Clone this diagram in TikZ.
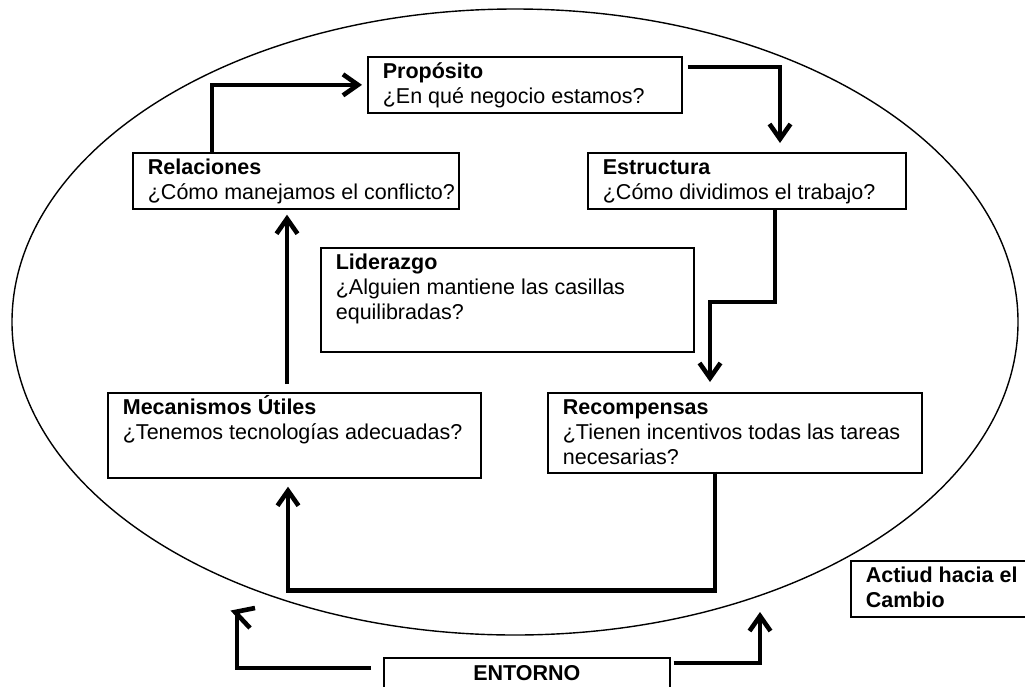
\documentclass[tikz,border=0pt]{standalone}
\usepackage{fontspec}
\setmainfont{Liberation Sans}
\usetikzlibrary{arrows.meta,calc}
\newcommand{\bt}[3]{\parbox[c][#2][t]{#1}{\raggedright\leftskip=15pt\rule{0pt}{22pt}#3}}
\begin{document}
\begin{tikzpicture}[x=1pt,y=-1pt,
  box/.style={draw, line width=1.7pt, fill=white, inner sep=0pt, anchor=north west,
              font=\fontsize{21.5pt}{25pt}\selectfont},
  shaft/.style={line width=4.6pt, line cap=butt, line join=miter},
  conn/.style={shaft, -{Straight Barb[length=15pt,width=21pt]}},
  ring/.style={line width=1.4pt}
]
\useasboundingbox (0,0) rectangle (1025,686);
\draw[ring] (515,322) ellipse [x radius=503pt, y radius=313pt];

\node[box] (prop) at (367,56) {\bt{314pt}{56pt}{\textbf{Propósito}\\¿En qué negocio estamos?}};
\node[box] (estr) at (587,152) {\bt{318pt}{56pt}{\textbf{Estructura}\\¿Cómo dividimos el trabajo?}};
\node[box] (rel) at (132,152) {\bt{326pt}{56pt}{\textbf{Relaciones}\\¿Cómo manejamos el conflicto?}};
\node[box] (lid) at (320,247) {\bt{373pt}{104pt}{\textbf{Liderazgo}\\¿Alguien mantiene las casillas\\equilibradas?}};
\node[box] (mec) at (107,392) {\bt{373pt}{85pt}{\textbf{Mecanismos Útiles}\\¿Tenemos tecnologías adecuadas?}};
\node[box] (rec) at (547,392) {\bt{374pt}{80pt}{\textbf{Recompensas}\\¿Tienen incentivos todas las tareas\\necesarias?}};
\node[box] (act) at (850,560) {\bt{190pt}{56pt}{\textbf{Actiud hacia el}\\\textbf{Cambio}}};
\node[box] (ent) at (383,657) {\parbox[c][44pt][t]{286pt}{\centering\rule{0pt}{23pt}\textbf{ENTORNO}}};

\coordinate (lt) at (235,612);
\coordinate (rt) at (760,612);

% Relaciones -> Proposito
\draw[conn, shorten >=5pt] ($(rel.north west)+(80,0)$) |- (prop.west);
% Proposito -> Estructura
\draw[conn, shorten >=9pt] ($(prop.north east)+(5,11)$) -| ($(estr.north west)+(193,0)$);
% Estructura -> Recompensas
\draw[conn, shorten >=10pt] ($(estr.south west)+(188,0)$) |- ($(rec.north west)+(163,-90)$) -- ($(rec.north west)+(163,0)$);
% Recompensas -> Mecanismos
\draw[conn, shorten >=8pt] ($(rec.south west)+(168,-2)$) |- ($(mec.south west)+(181,112)$) -- ($(mec.south west)+(181,0)$);
% Mecanismos -> Relaciones
\draw[conn, shorten >=5pt] ($(mec.north west)+(180,-8)$) -- ($(rel.south west)+(155,0)$);
% Entorno -> left (tilted head)
\draw[shaft] ($(ent.north west)+(-12,11)$) -| ($(lt)+(2,3)$);
\draw[shaft] ($(lt)+(20,-4)$) -- (lt) -- ($(lt)+(15,16)$);
% Entorno -> right
\draw[conn] ($(ent.north east)+(3,6)$) -| (rt);
\end{tikzpicture}
\end{document}
